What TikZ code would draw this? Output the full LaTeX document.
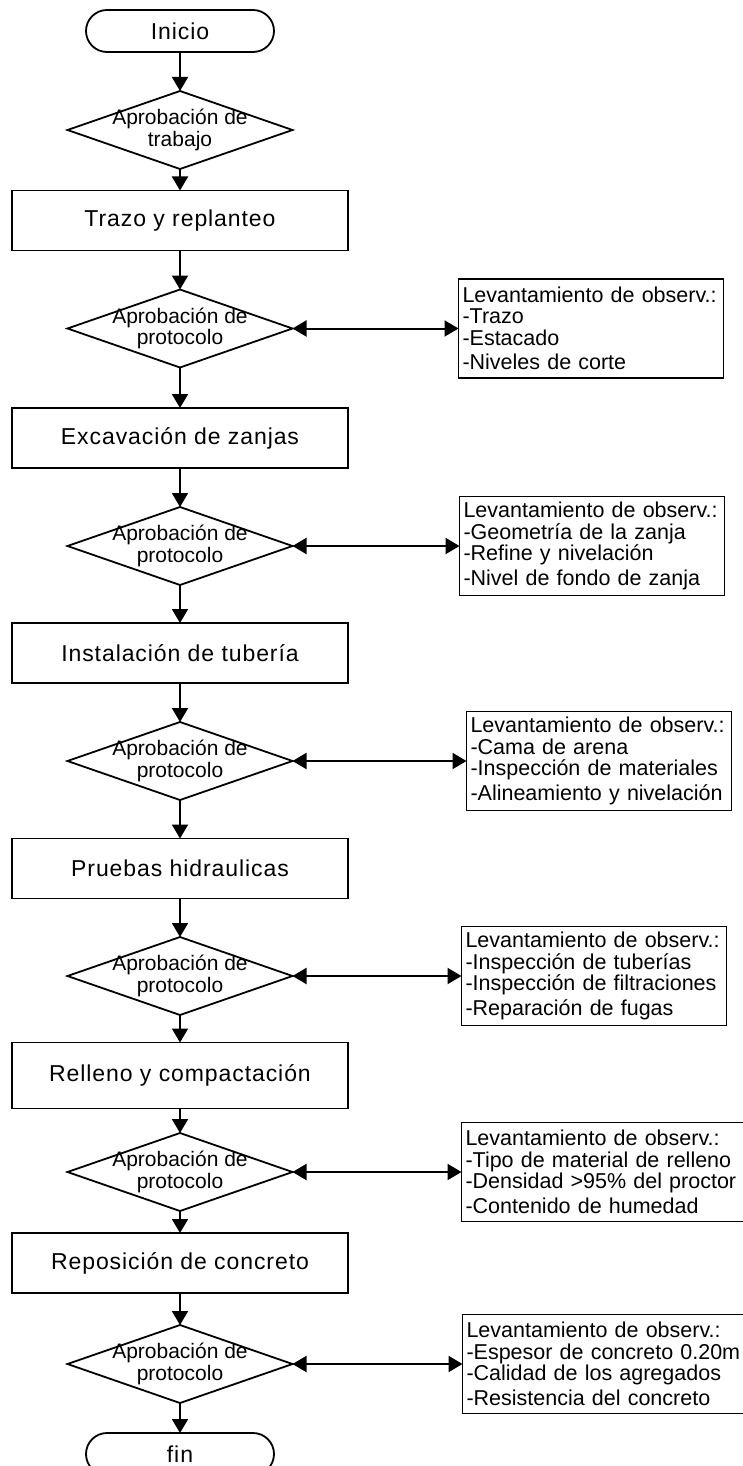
\documentclass[tikz,border=0pt]{standalone}
\usepackage{fontspec}
\setmainfont{Liberation Sans}
\newfontfamily\wideface[LetterSpace=4]{Liberation Sans}
\usetikzlibrary{arrows.meta,positioning,shapes.geometric}

\begin{document}
\begin{tikzpicture}[
    x=1pt,y=-1pt,
    node distance=39pt,
    term/.style={draw,line width=1.8pt,rounded corners=21pt,minimum width=188pt,minimum height=42pt,inner sep=0pt,outer sep=0pt,font=\wideface\fontsize{23}{25}\selectfont},
    proc/.style={draw,line width=1.8pt,minimum width=336pt,minimum height=60pt,inner sep=0pt,outer sep=0pt,font=\wideface\fontsize{23}{25}\selectfont},
    dia/.style={draw,diamond,line width=1.8pt,minimum width=225pt,minimum height=78pt,inner sep=0pt,outer sep=0pt},
    dtxt/.style={align=center,inner sep=0pt,font=\fontsize{21}{21.5}\selectfont},
    proto/.style={label={[dtxt]center:Aprobación de\\protocolo}},
    obs/.style={draw,line width=1.8pt,minimum height=99pt,text width=257pt,inner xsep=4pt,outer sep=0pt,align=left,font=\fontsize{21.5}{21.5}\selectfont},
    arr/.style={-{Triangle[length=14pt,width=16pt]},line width=2pt},
    darr/.style={{Triangle[length=14pt,width=16pt]}-{Triangle[length=14pt,width=16pt]},line width=2pt}
  ]
    \fill[white] (0,0) rectangle (742,1466);
    \useasboundingbox (0,0) rectangle (742,1466);
    % main column
    \node[term] (ini) at (180,31) {Inicio};
    \node[dia,below=of ini,label={[dtxt]center:Aprobación de\\trabajo}] (d1) {};
    \node[proc,below=21.5pt of d1] (trazo) {Trazo y replanteo};
    \node[dia,proto,below=of trazo] (d2) {};
    \node[proc,below=40.5pt of d2] (excav) {Excavación de zanjas};
    \node[dia,proto,below=of excav] (d3) {};
    \node[proc,below=38pt of d3] (tub) {Instalación de tubería};
    \node[dia,proto,below=of tub] (d4) {};
    \node[proc,below=38.5pt of d4] (prueba) {Pruebas hidraulicas};
    \node[dia,proto,below=38.5pt of prueba] (d5) {};
    \node[proc,minimum height=66pt,below=27.5pt of d5] (relleno) {Relleno y compactación};
    \node[dia,proto,below=24.5pt of relleno] (d6) {};
    \node[proc,below=22pt of d6] (repos) {Reposición de concreto};
    \node[dia,proto,below=32pt of repos] (d7) {};
    \node[term,below=30pt of d7] (fin) {fin};
    % observaciones
    \node[obs,right=166pt of d2] (o1) {Levantamiento de observ.:\\-Trazo\\-Estacado\\[3pt]-Niveles de corte};
    \node[obs,right=167pt of d3] (o2) {Levantamiento de observ.:\\-Geometría de la zanja\\-Refine y nivelación\\[3pt]-Nivel de fondo de zanja};
    \node[obs,right=174pt of d4] (o3) {Levantamiento de observ.:\\-Cama de arena\\-Inspección de materiales\\[3pt]-Alineamiento y nivelación};
    \node[obs,right=169pt of d5] (o4) {Levantamiento de observ.:\\-Inspección de tuberías\\-Inspección de filtraciones\\[3pt]-Reparación de fugas};
    \node[obs,text width=282pt,right=169pt of d6] (o5) {Levantamiento de observ.:\\-Tipo de material de relleno\\-Densidad >95\% del proctor\\[3pt]-Contenido de humedad};
    \node[obs,text width=282pt,right=170pt of d7] (o6) {Levantamiento de observ.:\\-Espesor de concreto 0.20m\\-Calidad de los agregados\\[3pt]-Resistencia del concreto};
    \draw[arr] (ini)--(d1); \draw[arr] (d1)--(trazo); \draw[arr] (trazo)--(d2);
    \draw[arr] (d2)--(excav); \draw[arr] (excav)--(d3); \draw[arr] (d3)--(tub);
    \draw[arr] (tub)--(d4); \draw[arr] (d4)--(prueba); \draw[arr] (prueba)--(d5);
    \draw[arr] (d5)--(relleno); \draw[arr] (relleno)--(d6); \draw[arr] (d6)--(repos);
    \draw[arr] (repos)--(d7); \draw[arr] (d7)--(fin);
    \draw[darr] (d2)--(o1); \draw[darr] (d3)--(o2); \draw[darr] (d4)--(o3);
    \draw[darr] (d5)--(o4); \draw[darr] (d6)--(o5); \draw[darr] (d7)--(o6);
  \end{tikzpicture}
\end{document}
